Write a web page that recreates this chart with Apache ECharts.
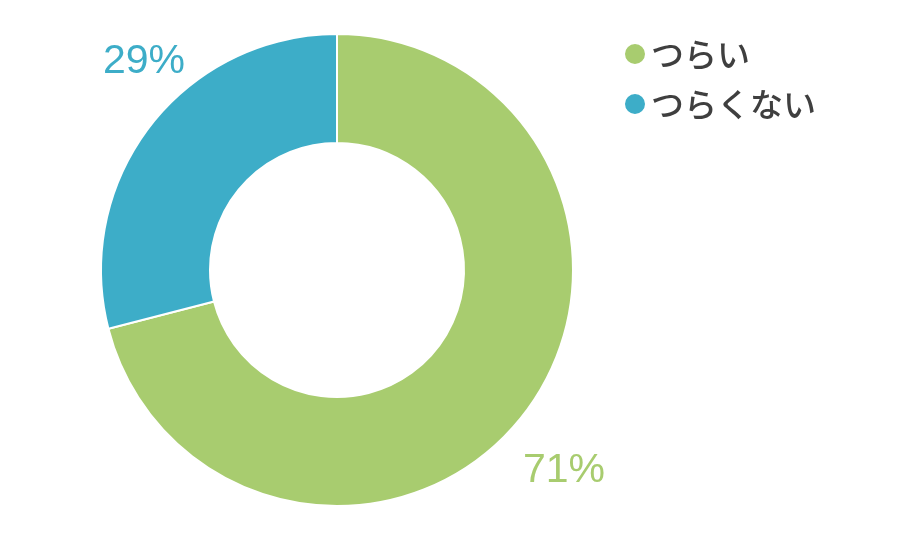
<!DOCTYPE html>
<html>
<head>
<meta charset="utf-8">
<script src="https://cdn.jsdelivr.net/npm/echarts@6/dist/echarts.min.js"></script>
<style>
html,body{margin:0;padding:0;background:#fff;}
#chart{width:920px;height:540px;}
</style>
</head>
<body>
<div id="chart"></div>
<script>
var categories = ['つらい', 'つらくない'];
var values = [71, 29];
var colors = ['#A8CC6F', '#3DADC8'];

var labelPos = [[564, 471], [144, 62]];

var chart = echarts.init(document.getElementById('chart'), null, {renderer: 'canvas'});
var data = categories.map(function (c, i) {
  return {
    name: c,
    value: values[i],
    itemStyle: {color: colors[i]},
    label: {color: colors[i]}
  };
});

chart.setOption({
  animation: false,
  backgroundColor: '#ffffff',
  legend: {
    orient: 'vertical',
    left: 618,
    top: 29,
    icon: 'circle',
    itemWidth: 22,
    itemHeight: 22,
    itemGap: 10,
    data: categories,
    textStyle: {
      fontSize: 33,
      fontWeight: 500,
      lineHeight: 40,
      color: '#3f3f3f',
      fontFamily: '"Noto Sans CJK JP", sans-serif'
    }
  },
  series: [{
    type: 'pie',
    center: [337, 270],
    radius: [127, 236],
    startAngle: 90,
    clockwise: true,
    silent: true,
    itemStyle: {borderColor: '#ffffff', borderWidth: 2},
    label: {
      show: true,
      position: 'outside',
      formatter: '{d}%',
      fontSize: 41,
      fontFamily: 'Helvetica, Arial, "Liberation Sans", sans-serif'
    },
    labelLine: {show: false},
    labelLayout: function (p) {
      var pos = labelPos[p.dataIndex];
      return {x: pos[0], y: pos[1], align: 'center', verticalAlign: 'middle'};
    },
    data: data
  }]
});
</script>
</body>
</html>
